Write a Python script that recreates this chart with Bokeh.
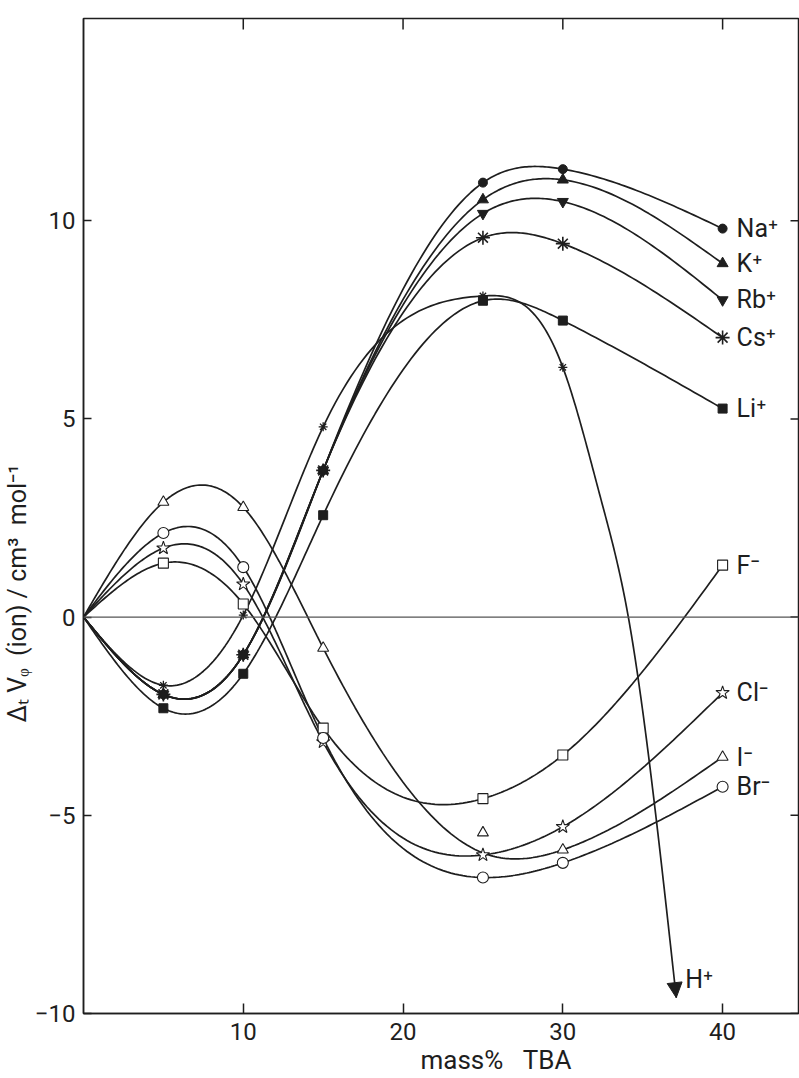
import numpy as np
from bokeh.plotting import figure
from bokeh.models import Range1d, FixedTicker, LinearAxis, Span, Arrow, NormalHead, Title
from bokeh.core.properties import value
from bokeh.embed import file_html
from bokeh.resources import INLINE

# ---------------- data ----------------
mass_pct = [0, 5, 10, 15, 25, 30, 40]

# cations (Na, K, Rb, Cs coincide up to 15 %)
na = [0, -1.95, -0.95, 3.70, 10.96, 11.30, 9.80]
k = [0, -1.95, -0.95, 3.70, 10.53, 11.03, 8.92]
rb = [0, -1.95, -0.95, 3.70, 10.18, 10.48, 8.00]
cs = [0, -1.95, -0.95, 3.70, 9.57, 9.42, 7.05]
li = [0, -2.30, -1.43, 2.57, 7.98, 7.48, 5.26]

# H+ (measured points and traced tail down to the arrow tip)
h_pct = [0, 5, 10, 15, 25, 30]
h_val = [0, -1.72, 0.05, 4.80, 8.10, 6.30]
h_tail_pct = [32.4, 34.1, 35.7, 37.1]
h_tail_val = [2.95, 0.00, -4.60, -9.60]

# anions
f = [0, 1.36, 0.33, -2.80, -4.58, -3.48, 1.31]
cl = [0, 1.74, 0.83, -3.15, -6.00, -5.29, -1.91]
br = [0, 2.12, 1.26, -3.05, -6.57, -6.20, -4.28]
i_pts = [0, 2.90, 2.77, -0.78, -5.44, -5.87, -3.53]
i_curve = [0, 2.90, 2.77, -0.78, -5.95, -5.87, -3.53]   # drawn curve misses the 25 % point

cation_labels = ["Na⁺", "K⁺", "Rb⁺", "Cs⁺", "Li⁺"]
anion_labels = ["F⁻", "Cl⁻", "I⁻", "Br⁻"]
h_label = "H⁺"

x_ticks = [10, 20, 30, 40]
y_ticks = [-10, -5, 0, 5, 10]

x_title = "mass%\u00a0\u00a0\u00a0TBA"
y_title = "Δₜ\u00a0Vᵩ\u00a0\u00a0(ion)\u00a0/\u00a0cm³\u00a0\u00a0mol⁻¹"

INK = "#1e1e1e"
FONT = "Roboto"


def natural_spline(xs, ys, per_seg=40):
    xs = np.asarray(xs, float)
    ys = np.asarray(ys, float)
    n = len(xs)
    h = np.diff(xs)
    m = np.zeros(n)
    if n > 2:
        A = np.zeros((n - 2, n - 2))
        rhs = np.zeros(n - 2)
        for j in range(n - 2):
            A[j, j] = 2 * (h[j] + h[j + 1])
            if j + 1 < n - 2:
                A[j, j + 1] = h[j + 1]
                A[j + 1, j] = h[j + 1]
            rhs[j] = 6 * ((ys[j + 2] - ys[j + 1]) / h[j + 1] - (ys[j + 1] - ys[j]) / h[j])
        m[1:-1] = np.linalg.solve(A, rhs)
    out_x, out_y = [], []
    for j in range(n - 1):
        t = np.linspace(xs[j], xs[j + 1], per_seg, endpoint=(j == n - 2))
        a = xs[j + 1] - t
        b = t - xs[j]
        y = (m[j] * a ** 3 + m[j + 1] * b ** 3) / (6 * h[j]) \
            + (ys[j] / h[j] - m[j] * h[j] / 6) * a \
            + (ys[j + 1] / h[j] - m[j + 1] * h[j] / 6) * b
        out_x.extend(t)
        out_y.extend(y)
    return np.array(out_x), np.array(out_y)


p = figure(width=799, height=1078,
           x_range=Range1d(0, 44.75), y_range=Range1d(-10, 15.1),
           output_backend="svg", toolbar_location=None,
           x_axis_location=None, y_axis_location=None,
           min_border_left=80, min_border_right=1,
           min_border_top=18, min_border_bottom=65)
p.xgrid.visible = False
p.ygrid.visible = False
p.outline_line_color = INK
p.outline_line_width = 1.5
p.background_fill_color = "white"
p.border_fill_color = "white"

x_axis = LinearAxis(ticker=FixedTicker(ticks=x_ticks))
y_axis = LinearAxis(ticker=FixedTicker(ticks=y_ticks))
p.add_layout(x_axis, "below")
p.add_layout(y_axis, "left")

for ax in [x_axis, y_axis]:
    ax.axis_line_color = INK
    ax.axis_line_width = 1.5
    ax.major_tick_line_color = INK
    ax.major_tick_line_width = 1.5
    ax.major_tick_out = 0
    ax.minor_tick_line_color = None
    ax.major_label_text_font = FONT
    ax.major_label_text_color = INK
    ax.major_label_text_font_size = "24px"
x_axis.major_tick_in = 10
y_axis.major_tick_in = 8
x_axis.major_label_standoff = 9
y_axis.major_label_standoff = 8

# inward ticks on the top and right edges (half of each dash falls outside the frame)
p.scatter(x_ticks, [p.y_range.end] * len(x_ticks), marker="dash", angle=np.pi / 2,
          size=22, line_color=INK, line_width=1.5)
p.scatter([p.x_range.end] * len(y_ticks), y_ticks, marker="dash",
          size=16, line_color=INK, line_width=1.5)

p.add_layout(Span(location=0, dimension="width", line_color="#555555", line_width=1.2))

LW = 1.7

# cation curves
cation_series = [na, k, rb, cs, li]
for ys in cation_series:
    cx, cy = natural_spline(mass_pct, ys)
    p.line(cx, cy, line_color=INK, line_width=LW)

# H+ curve with arrow
hx, hy = natural_spline(h_pct + h_tail_pct, h_val + h_tail_val)
p.line(hx, hy, line_color=INK, line_width=LW)
p.add_layout(Arrow(end=NormalHead(size=15, fill_color=INK, line_color=INK, line_width=1),
                   x_start=hx[-6], y_start=hy[-6], x_end=hx[-1], y_end=hy[-1],
                   line_alpha=0))

# anion curves
for ys in [f, cl, br, i_curve]:
    ax_, ay_ = natural_spline(mass_pct, ys)
    p.line(ax_, ay_, line_color=INK, line_width=LW)

# markers (skip the common origin)
mx = mass_pct[1:]
p.scatter(mx, li[1:], marker="square", size=9, fill_color=INK, line_color=INK)
p.scatter(mx, rb[1:], marker="inverted_triangle", size=11, fill_color=INK, line_color=INK)
p.scatter(mx, na[1:], marker="circle", size=9, fill_color=INK, line_color=INK)
p.scatter(mx, k[1:], marker="triangle", size=11, fill_color=INK, line_color=INK)
p.scatter(mx, cs[1:], marker="asterisk", size=14, line_color=INK, line_width=1.6)
p.scatter(h_pct[1:], h_val[1:], marker="asterisk", size=9, line_color=INK, line_width=1.3)

p.scatter(mx, f[1:], marker="square", size=10, fill_color="white", line_color=INK, line_width=1.1)
p.scatter(mx, cl[1:], marker="star", size=14, fill_color="white", line_color=INK, line_width=1.1)
p.scatter(mx, br[1:], marker="circle", size=11, fill_color="white", line_color=INK, line_width=1.1)
p.scatter(mx, i_pts[1:], marker="triangle", size=11, fill_color="white", line_color=INK, line_width=1.1)

# end labels
last_x = mass_pct[-1]
p.text(x=[last_x] * len(cation_series), y=[s[-1] for s in cation_series], text=cation_labels,
       x_offset=14, text_baseline="middle", text_align="left",
       text_font=value(FONT), text_font_size="25px", text_color=INK)
anion_series = [f, cl, i_pts, br]
p.text(x=[last_x] * len(anion_series), y=[s[-1] for s in anion_series], text=anion_labels,
       x_offset=14, text_baseline="middle", text_align="left",
       text_font=value(FONT), text_font_size="25px", text_color=INK)
p.text(x=[h_tail_pct[-1]], y=[h_tail_val[-1]], text=[h_label],
       x_offset=9, y_offset=-4, text_baseline="bottom", text_align="left",
       text_font=value(FONT), text_font_size="25px", text_color=INK)

# axis titles
p.add_layout(Title(text=x_title, align="left", offset=337, standoff=0,
                   text_font=FONT, text_font_style="normal", text_font_size="26px",
                   text_color=INK), "below")
p.add_layout(Title(text=y_title, align="left", offset=291, standoff=0,
                   text_font=FONT, text_font_style="normal", text_font_size="25px",
                   text_color=INK), "left")

open("out.html", "w").write(file_html(p, INLINE))
